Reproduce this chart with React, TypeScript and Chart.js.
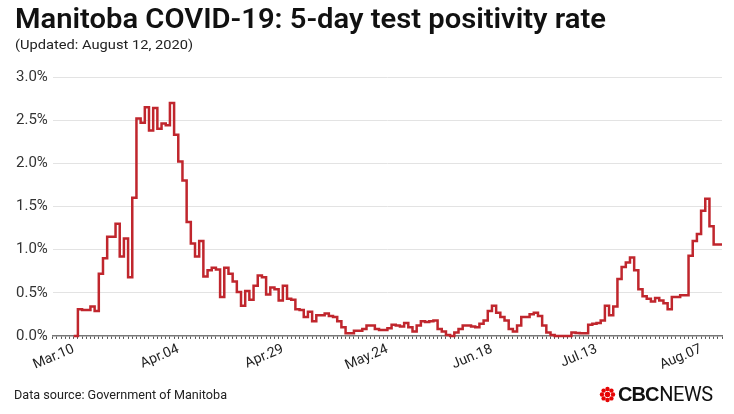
import React, { useEffect, useLayoutEffect, useRef } from 'react';
import { Chart, registerables } from 'chart.js';

Chart.register(...registerables);

// x axis: day numbers counted from Mar.05 (day 0) to Aug.12 (day 160)
const axisMinDay = 0;
const axisMaxDay = 160;
const firstDataDay = 5; // Mar.10

// 5-day test positivity rate (%), one value per day from Mar.10 to Aug.12
const positivity = [
  0, 0, 0.31, 0.30, 0.30, 0.34, 0.29, 0.72, 0.90, 1.15,
  1.15, 1.30, 0.92, 1.13, 0.68, 1.60, 2.52, 2.47, 2.65, 2.38,
  2.64, 2.40, 2.46, 2.44, 2.70, 2.33, 2.02, 1.80, 1.32, 1.07,
  0.92, 1.10, 0.69, 0.76, 0.79, 0.77, 0.45, 0.79, 0.72, 0.63,
  0.51, 0.35, 0.52, 0.42, 0.58, 0.70, 0.68, 0.48, 0.56, 0.54,
  0.41, 0.58, 0.43, 0.42, 0.31, 0.30, 0.22, 0.28, 0.17, 0.24,
  0.24, 0.26, 0.23, 0.22, 0.17, 0.10, 0.03, 0.03, 0.06, 0.06,
  0.08, 0.12, 0.12, 0.08, 0.07, 0.07, 0.09, 0.13, 0.12, 0.11,
  0.15, 0.10, 0.05, 0.12, 0.17, 0.16, 0.17, 0.18, 0.08, 0.05,
  0.01, 0.00, 0.04, 0.08, 0.12, 0.12, 0.11, 0.10, 0.14, 0.18,
  0.29, 0.35, 0.27, 0.22, 0.18, 0.08, 0.05, 0.12, 0.22, 0.22,
  0.25, 0.27, 0.23, 0.12, 0.04, 0.01, 0.00, 0.00, 0.00, 0.00,
  0.04, 0.035, 0.03, 0.03, 0.13, 0.14, 0.15, 0.18, 0.35, 0.24,
  0.34, 0.66, 0.80, 0.85, 0.91, 0.76, 0.54, 0.46, 0.43, 0.40,
  0.44, 0.41, 0.38, 0.31, 0.45, 0.45, 0.47, 0.47, 0.93, 1.10,
  1.18, 1.45, 1.59, 1.27, 1.06, 1.06,
];

const xTickDays = [5, 30, 55, 80, 105, 130, 155];
const xTickLabels = ['Mar.10', 'Apr.04', 'Apr.29', 'May.24', 'Jun.18', 'Jul.13', 'Aug.07'];

const yMin = 0;
const yMax = 3;
const yStep = 0.5;

const titleText = 'Manitoba COVID-19: 5-day test positivity rate';
const subtitleText = '(Updated: August 12, 2020)';
const sourceText = 'Data source: Government of Manitoba';

const LINE_COLOR = '#c0262d';

function FitText(props: { text: string; width: number; style: React.CSSProperties }) {
  const ref = useRef<HTMLSpanElement | null>(null);
  useLayoutEffect(() => {
    const el = ref.current;
    if (!el) return;
    el.style.transform = 'none';
    const w = el.getBoundingClientRect().width;
    if (w > 0) el.style.transform = `scaleX(${props.width / w})`;
  }, [props.text, props.width]);
  return (
    <span
      ref={ref}
      style={{ ...props.style, display: 'inline-block', whiteSpace: 'nowrap', transformOrigin: '0 0', position: 'absolute' }}
    >
      {props.text}
    </span>
  );
}

function CbcGem() {
  const petals = [0, 45, 90, 135, 180, 225, 270, 315];
  return (
    <svg width="17" height="17" viewBox="-10 -10 20 20" style={{ display: 'block' }}>
      <circle cx="0" cy="0" r="3.2" fill="#e60505" />
      {petals.map((a) => {
        const r = (a * Math.PI) / 180;
        return <circle key={a} cx={6.5 * Math.cos(r)} cy={6.5 * Math.sin(r)} r="2.6" fill="#e60505" />;
      })}
    </svg>
  );
}

export default function App() {
  const canvasRef = useRef<HTMLCanvasElement | null>(null);

  useEffect(() => {
    const canvas = canvasRef.current;
    if (!canvas) return;
    const points = positivity.map((v, i) => ({ x: firstDataDay + i, y: v }));
    const chart = new Chart(canvas, {
      type: 'line',
      data: {
        datasets: [
          {
            data: points,
            borderColor: LINE_COLOR,
            borderWidth: 2.5,
            pointRadius: 0,
            stepped: 'after',
            fill: false,
            clip: false as any,
          },
        ],
      },
      options: {
        animation: false,
        responsive: false,
        maintainAspectRatio: false,
        layout: { padding: { left: 11, right: 12, top: 77, bottom: 38 } },
        plugins: {
          legend: { display: false },
          tooltip: { enabled: false },
        },
        scales: {
          x: {
            type: 'linear',
            min: axisMinDay,
            max: axisMaxDay,
            grid: {
              drawOnChartArea: false,
              drawTicks: true,
              tickLength: 3,
              color: '#555',
              lineWidth: 1,
            },
            border: { display: true, color: '#777', width: 1.5 },
            ticks: {
              stepSize: 1,
              autoSkip: false,
              minRotation: 23,
              maxRotation: 23,
              padding: 2,
              color: '#222',
              font: { family: 'Roboto', size: 14 },
              callback: (value: any) => {
                const idx = xTickDays.indexOf(Number(value));
                return idx >= 0 ? xTickLabels[idx] : '';
              },
            },
          },
          y: {
            min: yMin,
            max: yMax,
            grid: { color: '#e3e3e3', drawTicks: false, lineWidth: 1 },
            border: { display: false },
            ticks: {
              stepSize: yStep,
              padding: 5,
              color: '#333',
              font: { family: 'Roboto', size: 15 },
              callback: (value: any) => Number(value).toFixed(1) + '%',
            },
          },
        },
      },
    });
    return () => chart.destroy();
  }, []);

  return (
    <div
      style={{
        position: 'fixed',
        left: 0,
        top: 0,
        width: 734,
        height: 414,
        background: '#fff',
        overflow: 'hidden',
      }}
    >
      <canvas
        ref={canvasRef}
        width={734}
        height={414}
        style={{ position: 'absolute', left: 0, top: 0, width: 734, height: 414 }}
      />
      <div style={{ position: 'absolute', left: 15, top: 2 }}>
        <FitText
          text={titleText}
          width={591}
          style={{
            fontFamily: 'Roboto, sans-serif',
            fontWeight: 600,
            fontSize: 28,
            color: '#111',
            lineHeight: '34px',
          }}
        />
      </div>
      <div style={{ position: 'absolute', left: 15, top: 36 }}>
        <FitText
          text={subtitleText}
          width={178}
          style={{
            fontFamily: 'Roboto, sans-serif',
            fontSize: 13,
            color: '#222',
            lineHeight: '18px',
          }}
        />
      </div>
      <div style={{ position: 'absolute', left: 14, top: 387 }}>
        <FitText
          text={sourceText}
          width={213}
          style={{
            fontFamily: 'Roboto, sans-serif',
            fontSize: 13,
            color: '#222',
            lineHeight: '16px',
          }}
        />
      </div>
      <div
        style={{
          position: 'absolute',
          left: 599,
          top: 383,
          display: 'flex',
          alignItems: 'center',
          gap: 2,
          whiteSpace: 'nowrap',
        }}
      >
        <CbcGem />
        <span
          style={{
            fontFamily: '"Liberation Sans", Arial, sans-serif',
            fontWeight: 900,
            fontSize: 20,
            color: '#111',
            letterSpacing: -1,
            lineHeight: '22px',
          }}
        >
          CBC
        </span>
        <span
          style={{
            fontFamily: 'Roboto, sans-serif',
            fontSize: 20,
            color: '#111',
            lineHeight: '22px',
            marginLeft: -1,
            letterSpacing: -0.5,
          }}
        >
          NEWS
        </span>
      </div>
    </div>
  );
}
